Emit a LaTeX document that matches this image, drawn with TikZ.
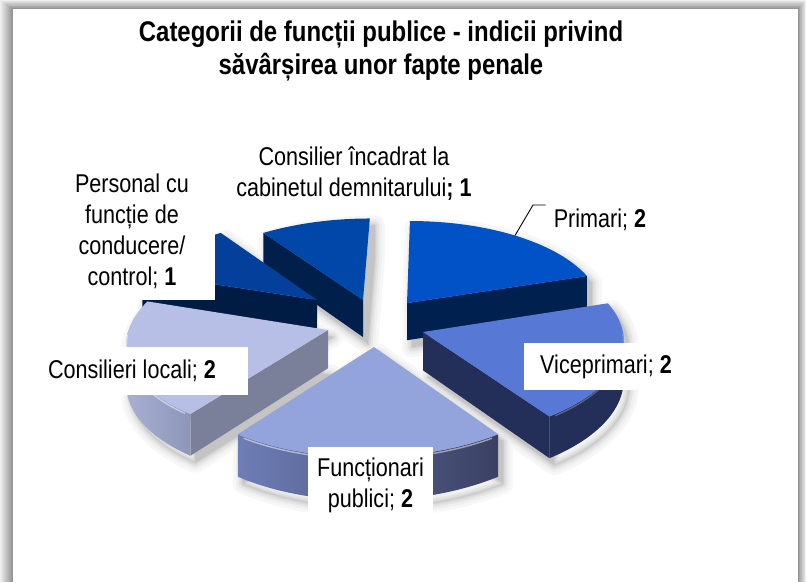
\documentclass[tikz,border=0pt]{standalone}
\usepackage{fontspec}
\setmainfont{Liberation Sans}[FakeStretch=0.84]
\definecolor{priTop}{HTML}{0052C6}
\definecolor{priSide}{HTML}{00214F}
\definecolor{incTop}{HTML}{0047AA}
\definecolor{incSide}{HTML}{001F4A}
\definecolor{perTop}{HTML}{053F9C}
\definecolor{perSide}{HTML}{001B44}
\definecolor{vicTop}{HTML}{5878D6}
\definecolor{vicSide}{HTML}{232F58}
\definecolor{funTop}{HTML}{93A3DC}
\definecolor{funSideL}{HTML}{6E7EB6}
\definecolor{funSideR}{HTML}{3A4062}
\definecolor{conTop}{HTML}{B7BFE6}
\definecolor{conRad}{HTML}{7A8099}
\definecolor{conSideL}{HTML}{A8B0D4}
\definecolor{conSideR}{HTML}{8D95B8}
% sector (top or bottom face) : u0 v0 a1 a2 z
\newcommand\pieSec[5]{plot[domain=#3:#4,samples=40,variable=\ang]({PX(#1+cos(\ang),#2+sin(\ang))},{PY(#1+cos(\ang),#2+sin(\ang),#5)}) -- ({PX(#1,#2)},{PY(#1,#2,#5)}) -- cycle}
% radial cut face : u0 v0 angle
\newcommand\pieRad[3]{({PX(#1,#2)},{PY(#1,#2,0)}) -- ({PX(#1+cos(#3),#2+sin(#3))},{PY(#1+cos(#3),#2+sin(#3),0)}) -- ({PX(#1+cos(#3),#2+sin(#3))},{PY(#1+cos(#3),#2+sin(#3),1)}) -- ({PX(#1,#2)},{PY(#1,#2,1)}) -- cycle}
% outer rim face : u0 v0 a1 a2
\newcommand\pieRim[4]{plot[domain=#3:#4,samples=30,variable=\ang]({PX(#1+cos(\ang),#2+sin(\ang))},{PY(#1+cos(\ang),#2+sin(\ang),0)}) -- plot[domain=#4:#3,samples=30,variable=\ang]({PX(#1+cos(\ang),#2+sin(\ang))},{PY(#1+cos(\ang),#2+sin(\ang),1)}) -- cycle}
% arc only
\newcommand\pieArc[5]{plot[domain=#3:#4,samples=30,variable=\ang]({PX(#1+cos(\ang),#2+sin(\ang))},{PY(#1+cos(\ang),#2+sin(\ang),#5)})}
% silhouette for shadow
\newcommand\pieShadow[4]{\pieSec{#1}{#2}{#3}{#4}{0} \pieSec{#1}{#2}{#3}{#4}{1} \pieRim{#1}{#2}{#3}{#4}}
\begin{document}
\begin{tikzpicture}[x=1pt,y=-1pt,
  declare function={PX(\uu,\vv)=440+198*\uu/(1+0.1*\vv); PY(\uu,\vv,\zz)=323+(-94*\vv+38*\zz)/(1+0.1*\vv);},
  lbl/.style={font=\fontsize{25.7}{30.8}\selectfont, align=center, inner sep=0pt},
  lblbox/.style={lbl, fill=white},
  leader/.style={draw=black, line width=0.9pt}]
\useasboundingbox (0,0) rectangle (806,582);
% ---- frame with soft grey border
\foreach \i [evaluate=\i as \c using 6+3*\i, evaluate=\i as \r using 806-\i*8/13, evaluate=\i as \t using \i*9/13] in {0,...,12} {
  \fill[black!\c] (\i,\t) rectangle (\r,582);
}
\fill[white] (13,9) rectangle (798,582);
% ---- soft shadows
\foreach \w/\c in {20/3,14/6,9/10,5/14,2/19}{
  \begin{scope}[shift={(5,7)}]
    \filldraw[black!\c, line width=\w pt, line join=round] \pieShadow{-0.3987}{0.251}{90}{126};
    \filldraw[black!\c, line width=\w pt, line join=round] \pieShadow{-0.1703}{0.217}{18}{90};
    \filldraw[black!\c, line width=\w pt, line join=round] \pieShadow{-0.6368}{0.251}{126}{162};
    \filldraw[black!\c, line width=\w pt, line join=round] \pieShadow{-0.0850}{-0.095}{-54}{18};
    \filldraw[black!\c, line width=\w pt, line join=round] \pieShadow{-0.5615}{-0.074}{162}{234};
    \filldraw[black!\c, line width=\w pt, line join=round] \pieShadow{-0.3250}{-0.249}{234}{306};
  \end{scope}
}
\begin{scope}[shift={(5,7)}]
  \fill[black!23] \pieShadow{-0.3987}{0.251}{90}{126};
  \fill[black!23] \pieShadow{-0.1703}{0.217}{18}{90};
  \fill[black!23] \pieShadow{-0.6368}{0.251}{126}{162};
  \fill[black!23] \pieShadow{-0.0850}{-0.095}{-54}{18};
  \fill[black!23] \pieShadow{-0.5615}{-0.074}{162}{234};
  \fill[black!23] \pieShadow{-0.3250}{-0.249}{234}{306};
\end{scope}
% ---- slices, back to front
% Consilier incadrat la cabinetul demnitarului (1)
\fill[incSide] \pieRad{-0.3987}{0.251}{126};
\fill[incTop] \pieSec{-0.3987}{0.251}{90}{126}{0};
% Primari (2)
\fill[priSide] \pieRad{-0.1703}{0.217}{18};
\fill[priTop] \pieSec{-0.1703}{0.217}{18}{90}{0};
% Personal cu functie de conducere/control (1)
\fill[perSide] \pieRad{-0.6368}{0.251}{162};
\fill[perTop] \pieSec{-0.6368}{0.251}{126}{162}{0};
% Viceprimari (2)
\fill[vicSide] \pieRim{-0.0850}{-0.095}{-54}{0};
\fill[vicSide] \pieRad{-0.0850}{-0.095}{-54};
\fill[vicTop] \pieSec{-0.0850}{-0.095}{-54}{18}{0};
\draw[white, opacity=0.25, line width=1.4pt] \pieArc{-0.0850}{-0.095}{-52}{0}{0.04};
% Consilieri locali (2)
\shade[left color=conSideL, right color=conSideR] \pieRim{-0.5615}{-0.074}{180}{234};
\fill[conRad] \pieRad{-0.5615}{-0.074}{234};
\fill[conTop] \pieSec{-0.5615}{-0.074}{162}{234}{0};
\draw[white, opacity=0.5, line width=1.4pt] \pieArc{-0.5615}{-0.074}{182}{232}{0.04};
% Functionari publici (2)
\shade[left color=funSideL, right color=funSideR] \pieRim{-0.3250}{-0.249}{234}{306};
\fill[funTop] \pieSec{-0.3250}{-0.249}{234}{306}{0};
\draw[white, opacity=0.5, line width=1.4pt] \pieArc{-0.3250}{-0.249}{236}{304}{0.04};
% ---- title
\node[lbl, font=\fontsize{28.5}{33}\selectfont\bfseries] (title) at (381,51)
  {Categorii de funcții publice - indicii privind\\săvârșirea unor fapte penale};
% ---- data labels
\node[lblbox, minimum width=250, minimum height=62] (lInc) at (354,174)
  {Consilier încadrat la\\cabinetul demnitarului\textbf{; 1}};
\node[lblbox, minimum width=166, minimum height=137] (lPer) at (132,231.5)
  {Personal cu\\funcție de\\conducere/\\control; \textbf{1}};
\node[lblbox, minimum width=232, minimum height=48] (lCon) at (132,371)
  {Consilieri locali; \textbf{2}};
\node[lblbox, minimum width=164, minimum height=47] (lVic) at (606,366.5)
  {Viceprimari; \textbf{2}};
\node[lblbox, minimum width=125, minimum height=76] (lFun) at (370.5,485)
  {Funcționari\\publici; \textbf{2}};
\node[lbl, inner xsep=8pt] (lPri) at (600,220) {Primari; \textbf{2}};
% ---- leader line for Primari
\coordinate (pa) at ({PX(-0.1703+cos(54),0.217+sin(54))},{PY(-0.1703+cos(54),0.217+sin(54),0)});
\coordinate (pb) at (533,205);
\draw[leader] (pa) -- (pb) -- (pb -| lPri.west);
\end{tikzpicture}
\end{document}
